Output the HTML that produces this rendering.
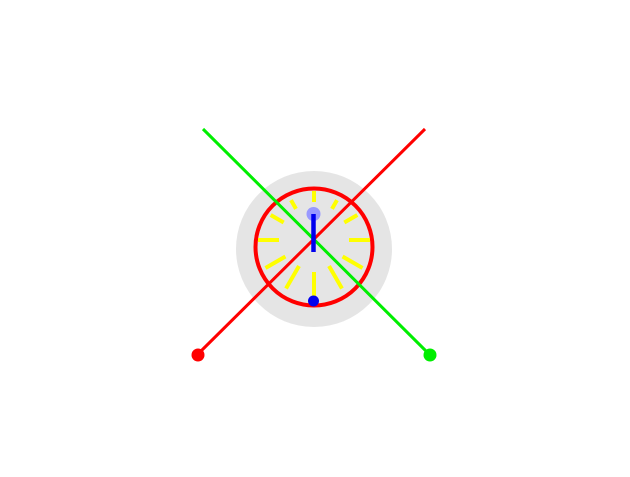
<!DOCTYPE html>
<html><head><meta charset="utf-8"><style>html,body{margin:0;padding:0;background:#fff}svg{display:block}</style></head>
<body>
<svg id="chart" width="630" height="477" viewBox="0 0 630 477" xmlns="http://www.w3.org/2000/svg">
<circle cx="314" cy="249" r="78" fill="#e5e5e5"/>
<circle cx="314" cy="247" r="58.5" fill="none" stroke="#ff0000" stroke-width="4"/>
<g id="ticks"></g>
<line x1="425" y1="129" x2="197" y2="355" stroke="#ff0000" stroke-width="3"/>
<circle cx="198" cy="355" r="6.5" fill="#ff0000"/>
<line x1="203" y1="129" x2="430" y2="355" stroke="#00ee00" stroke-width="3"/>
<circle cx="430" cy="355" r="6.5" fill="#00ee00"/>
<circle cx="313.5" cy="214" r="7" fill="#9999ff"/>
<line x1="313.5" y1="214" x2="313.5" y2="252" stroke="#0000ee" stroke-width="4.5"/>
<circle cx="313.5" cy="301" r="5.5" fill="#0000ee"/>
</svg>
<script>
const tickAngles=[0,30,60,90,120,150,180,210,240,270,300,330];
const tickInner=[38,36,35,35,33,30,32,30,33,35,35,36];
const tickOuter=[49,46,50,56,56,56,57,56,56,56,50,46];
const cx=314,cy=240;
const g=document.getElementById('ticks');
tickAngles.forEach((a,i)=>{
  const t=a*Math.PI/180;
  const l=document.createElementNS('http://www.w3.org/2000/svg','line');
  l.setAttribute('x1',cx+Math.sin(t)*tickInner[i]);
  l.setAttribute('y1',cy-Math.cos(t)*tickInner[i]);
  l.setAttribute('x2',cx+Math.sin(t)*tickOuter[i]);
  l.setAttribute('y2',cy-Math.cos(t)*tickOuter[i]);
  l.setAttribute('stroke','#ffff00');
  l.setAttribute('stroke-width','4');
  
  
  g.appendChild(l);
});
</script>
</body></html>
